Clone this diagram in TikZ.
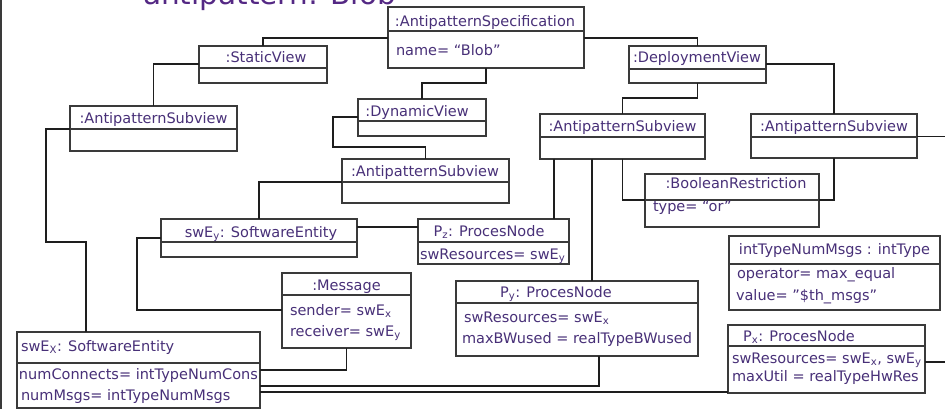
\documentclass[tikz,border=0pt]{standalone}
\usepackage{fontspec}
\setmainfont{DejaVu Sans}

\definecolor{inkpurple}{RGB}{72,48,120}
\definecolor{headpurple}{RGB}{84,40,132}
\definecolor{framegray}{RGB}{58,58,58}
\definecolor{linkblack}{RGB}{30,30,30}

\newcommand\objfont{\fontsize{14.5}{17}\selectfont}

% object box: name, x1, y1, x2, y2, y of the compartment line
\newcommand\objbox[6]{%
  \node[objframe, minimum width={#4pt-#2pt}, minimum height={#5pt-#3pt}]
    (#1) at ({(#2+#4)/2},{(#3+#5)/2}) {};
  \draw[divider] (#1.west |- 0,#6) -- (#1.east |- 0,#6);
}

\begin{document}
\begin{tikzpicture}[x=1pt,y=-1pt,
  objframe/.style={draw=framegray, line width=1.2pt, fill=white,
    rectangle, inner sep=0pt, outer sep=0pt},
  divider/.style={draw=framegray, line width=1.2pt},
  link/.style={draw=linkblack, line width=1.1pt},
  lbl/.style={text=inkpurple, inner sep=0pt, outer sep=0pt, font=\objfont},
  ttl/.style={lbl, anchor=base},
  attr/.style={lbl, anchor=base west},
  headline/.style={text=headpurple, inner sep=0pt, font=\fontsize{29.5}{34}\selectfont},
]
\useasboundingbox (0,0) rectangle (945,409);
\clip (0,0) rectangle (945,409);
\fill[white] (0,0) rectangle (945,409);

% page heading, mostly above the visible area
\node[headline, anchor=base west] (heading) at (143,5) {antipattern: Blob};

% frame edge on the left
\coordinate (frametop) at (1,0);
\coordinate (framebot) at (1,409);
\draw[framegray, line width=1.5pt] (frametop) -- (framebot);

% object boxes
\objbox{spec}{388}{7}{584}{68}{31}
\objbox{sv}{199}{46}{327}{83}{68}
\objbox{dv}{629}{46}{766}{83}{69}
\objbox{as1}{70}{106}{237}{151}{129}
\objbox{dyn}{358}{99}{486}{136}{121}
\objbox{as2}{342}{159}{509}{203}{182}
\objbox{as3}{540}{114}{705}{159}{137}
\objbox{as4}{751}{114}{917}{158}{137}
\objbox{bool}{645}{174}{819}{227}{200}
\objbox{itype}{729}{236}{940}{310}{264}
\objbox{sey}{161}{219}{357}{257}{242}
\objbox{pz}{418}{219}{569}{264}{242}
\objbox{msg}{282}{273}{411}{348}{295}
\objbox{sex}{17}{332}{260}{408}{363}
\objbox{py}{456}{281}{698}{356}{303}
\objbox{px}{728}{325}{925}{393}{346}

% links between objects
\coordinate (edgeA) at (945,136.5);
\coordinate (edgeB) at (945,362);
\draw[link] (sv.north -| 263,0) |- (spec.west |- 0,38);
\draw[link] (spec.east |- 0,38) -| (dv.north);
\draw[link] (sv.west |- 0,64) -| (as1.north);
\draw[link] (spec.south) -- ++(0,15) -| (dyn.north);
\draw[link] (dyn.west |- 0,117) -| (333,147) -| (as2.north);
\draw[link] (as2.west |- 0,182) -| (sey.north);
\draw[link] (as1.west |- 0,129) -| (46,242) -| (sex.north -| 86,0);
\draw[link] (dv.south) -- ++(0,15) -| (as3.north);
\draw[link] (dv.east |- 0,64) -| (as4.north);
\draw[link] (as3.south) |- (bool.west |- 0,200);
\draw[link] (as4.south) |- (bool.east |- 0,200);
\draw[link] (as3.south -| 554,0) -- (pz.north -| 554,0);
\draw[link] (as3.south -| 592,0) -- (py.north -| 592,0);
\draw[link] (sey.east |- 0,227) -- (pz.west |- 0,227);
\draw[link] (sey.west |- 0,238) -| (137,310) -- (msg.west |- 0,310);
\draw[link] (sex.east |- 0,370) -| (msg.south);
\draw[link] (sex.east |- 0,386) -| (py.south -| 599,0);
\draw[link] (sex.east |- 0,392) -- (px.west |- 0,392);
\draw[link] (as4.east |- 0,136.5) -- (edgeA);
\draw[link] (px.east |- 0,362) -- (edgeB);

% names and attribute values
\node[ttl] (specname) at (485,26.5) {:AntipatternSpecification};
\node[attr] (specattr) at (396,56) {name= “Blob”};
\node[ttl] (svname) at (266,63) {:StaticView};
\node[ttl] (dvname) at (697,63) {:DeploymentView};
\node[ttl] (as1name) at (153.5,124) {:AntipatternSubview};
\node[ttl] (dynname) at (417,116.5) {:DynamicView};
\node[ttl] (as2name) at (425,176.5) {:AntipatternSubview};
\node[ttl] (as3name) at (622.5,131.5) {:AntipatternSubview};
\node[ttl] (as4name) at (834,131.5) {:AntipatternSubview};
\node[ttl] (boolname) at (736,188.5) {:BooleanRestriction};
\node[attr] (boolattr) at (653,211.5) {type= “or”};
\node[ttl] (itypename) at (834.5,254) {intTypeNumMsgs : intType};
\node[attr] (itypeop) at (737,278.5) {operator= max\_equal};
\node[attr] (itypeval) at (736,300) {value= "\$th\_msgs"};
\node[ttl] (seyname) at (261,237) {swE\textsubscript{y}: SoftwareEntity};
\node[ttl] (pzname) at (489,236.5) {P\textsubscript{z}: ProcesNode};
\node[attr] (pzattr) at (420,259) {swResources= swE\textsubscript{y}};
\node[ttl] (msgname) at (346.5,290) {:Message};
\node[attr] (msgsend) at (290,315) {sender= swE\textsubscript{x}};
\node[attr] (msgrecv) at (290,336) {receiver= swE\textsubscript{y}};
\node[attr] (sexname) at (21,351.5) {swE\textsubscript{X}: SoftwareEntity};
\node[attr] (sexcon) at (19,379) {numConnects= intTypeNumCons};
\node[attr] (sexmsg) at (21,400) {numMsgs= intTypeNumMsgs};
\node[ttl] (pyname) at (556,297.5) {P\textsubscript{y}: ProcesNode};
\node[attr] (pyres) at (464,322.5) {swResources= swE\textsubscript{x}};
\node[attr] (pybw) at (462,343.5) {maxBWused = realTypeBWused};
\node[ttl] (pxname) at (799,341.5) {P\textsubscript{x}: ProcesNode};
\node[attr] (pxres) at (732,363.5) {swResources= swE\textsubscript{x}, swE\textsubscript{y}};
\node[attr] (pxutil) at (732,381) {maxUtil = realTypeHwRes};
\end{tikzpicture}
\end{document}
